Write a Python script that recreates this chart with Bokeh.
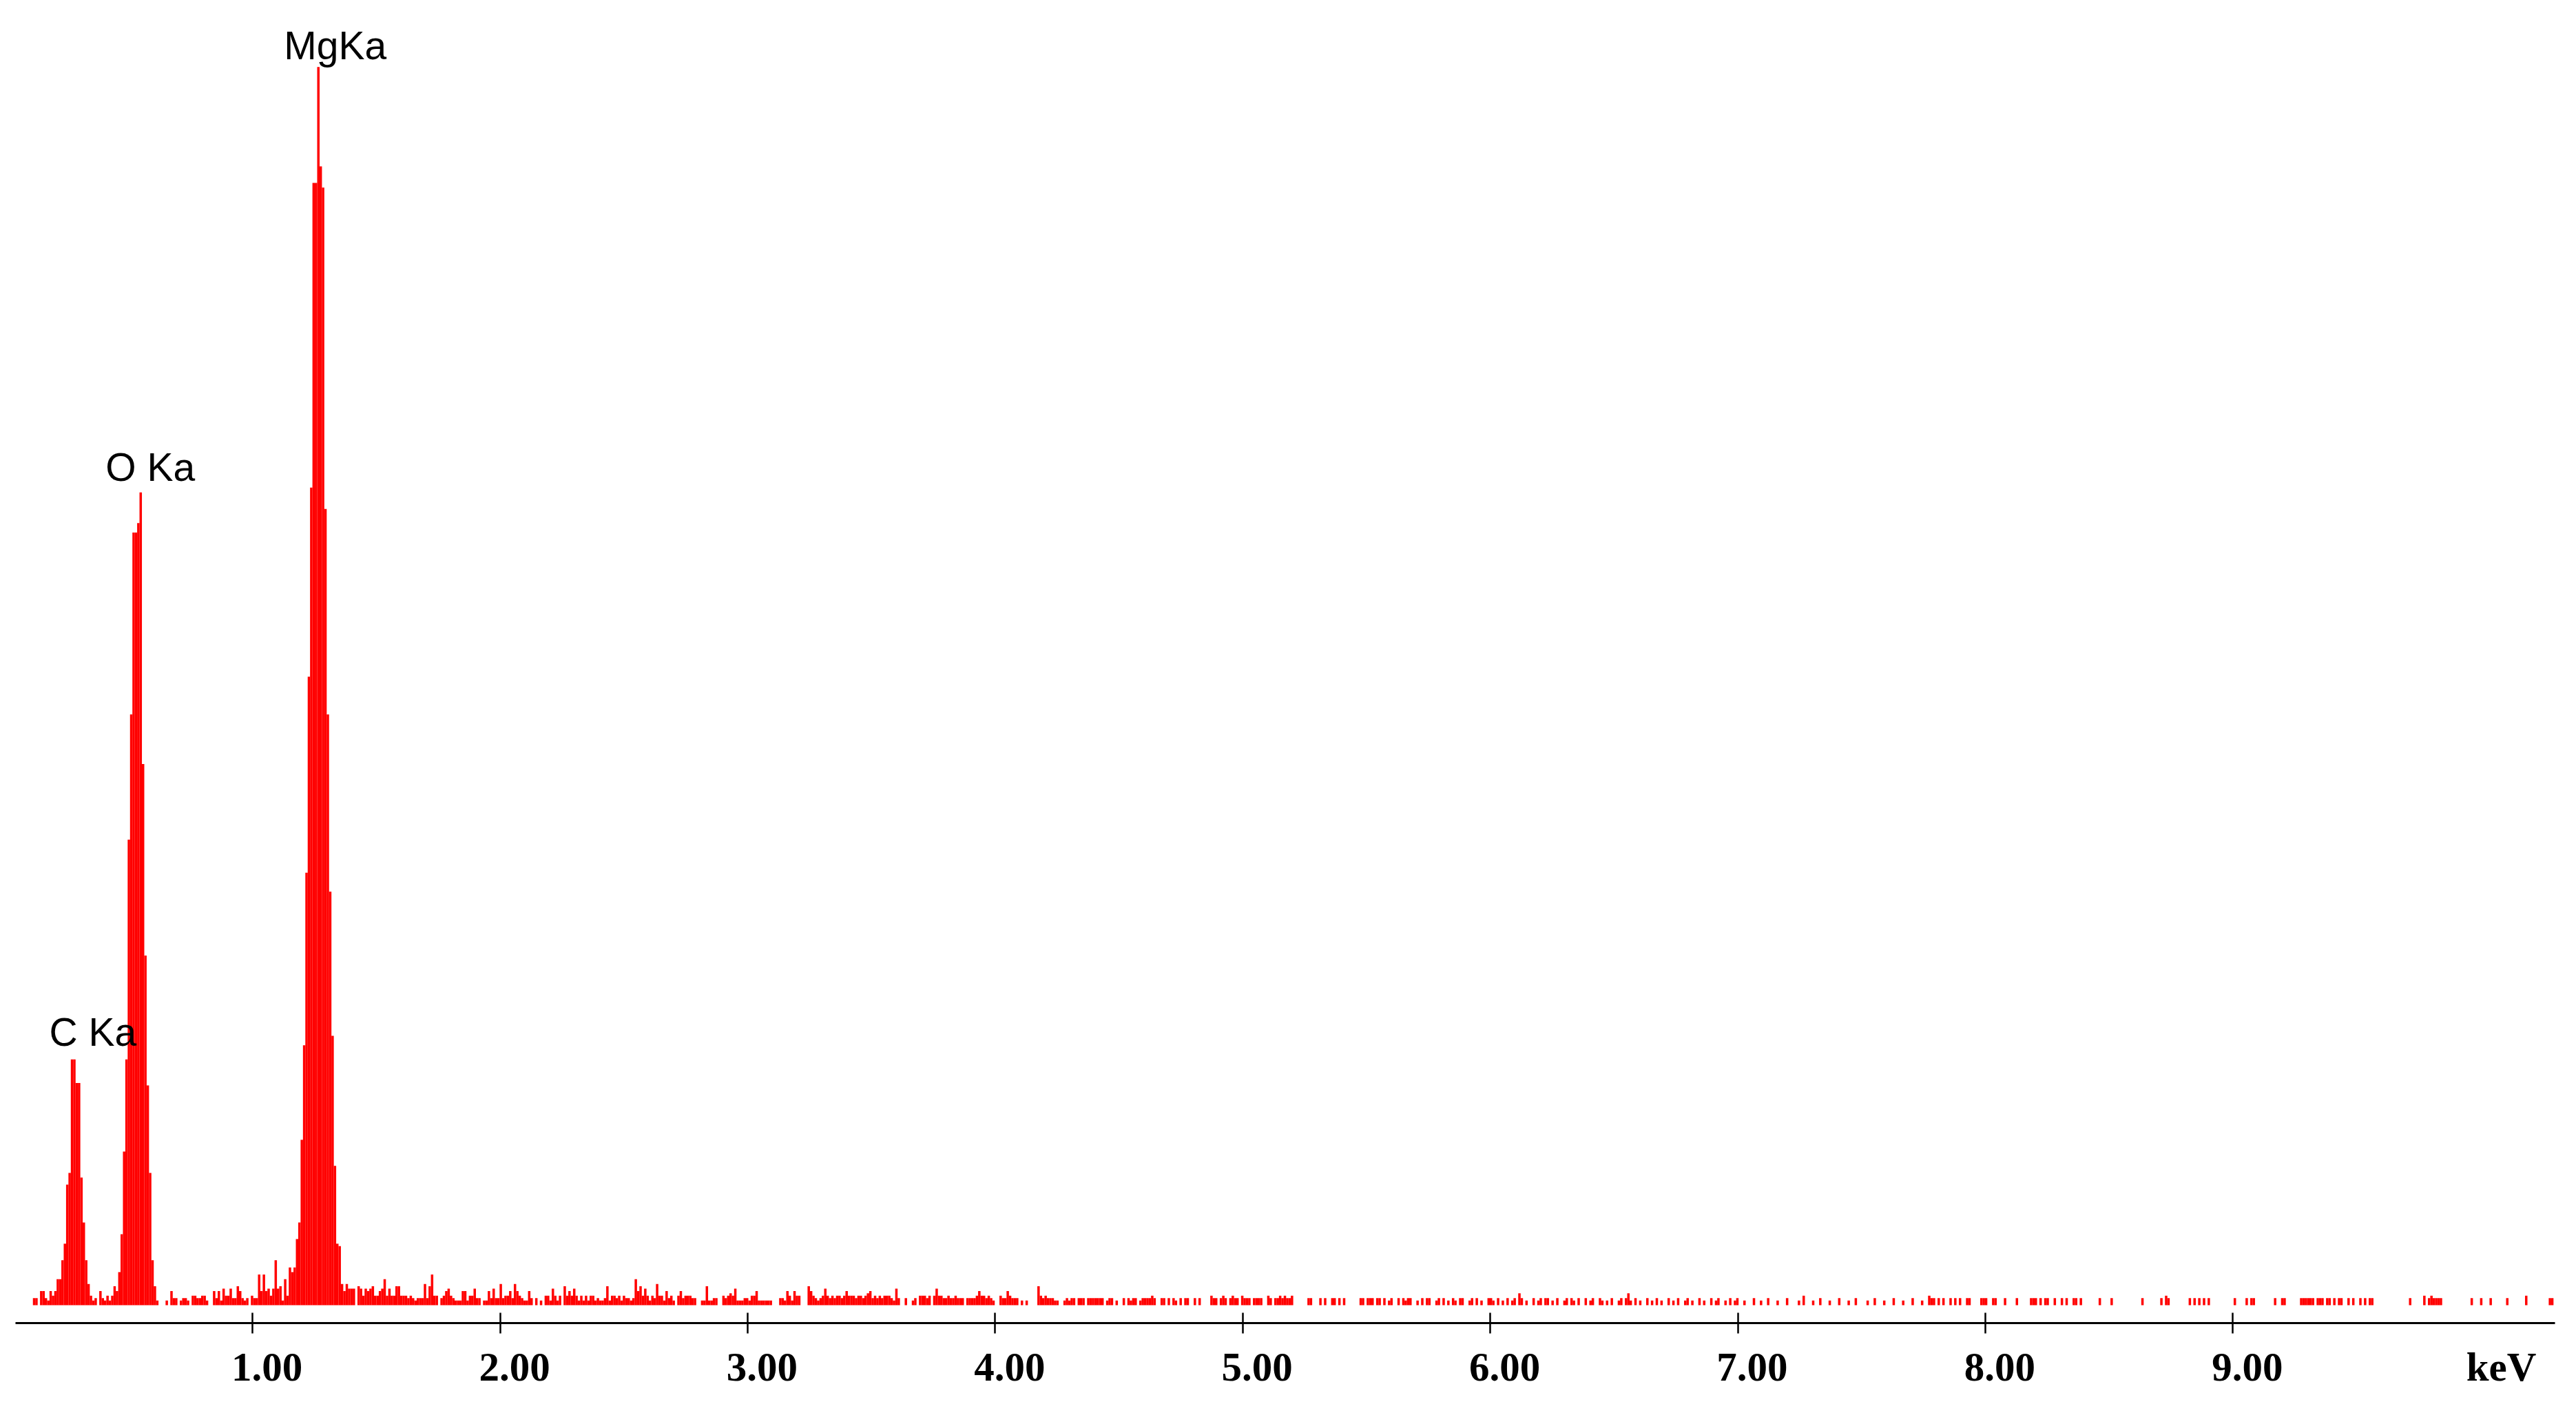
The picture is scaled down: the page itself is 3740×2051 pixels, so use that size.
from bokeh.plotting import figure
from bokeh.models import LinearAxis, FixedTicker, Range1d, ColumnDataSource
from bokeh.embed import file_html
from bokeh.resources import INLINE
from bokeh.core.properties import value

# ---------------- data ----------------
first_channel_kev = 0.1124      # lower edge of first plotted channel
channel_width_kev = 0.00957
n_channels = 1065

# counts per channel (channel 0 .. 212)
counts_c_o = [3, 3, 0, 6, 6, 3, 2, 6, 4, 6, 11, 11, 19, 26, 51, 56, 104, 104, 94, 94,
              54, 35, 19, 9, 4, 2, 3, 0, 6, 3, 2, 4, 2, 4, 8, 6, 14, 30, 65, 104,
              197, 250, 327, 327, 331, 344, 229, 148, 93, 56, 19, 8, 2]
counts_o_mg = [0, 0, 0, 2, 0, 6, 3, 3, 0, 2, 3, 3, 2, 0, 4, 4, 3, 3, 4, 4, 2, 0, 0, 6,
               3, 6, 2, 7, 4, 4, 7, 3, 3, 8, 6, 3, 2, 3, 0, 4, 3, 3, 13, 6, 13, 6, 7, 4,
               7, 19, 7, 8, 2, 11, 4, 16, 14, 16, 28]
counts_mg = [35, 70, 110, 183, 266, 346, 475, 475, 524, 482, 473, 337, 250, 175, 114,
             59, 26, 25]
counts_after_mg = [9, 6, 9, 7, 7, 7, 0, 8, 7, 4, 7, 6, 7, 8, 4, 4, 6, 7, 11, 4, 7, 4, 4,
                   8, 8, 4, 4, 4, 3, 4, 3, 2, 3, 3, 3, 9, 3, 8, 13, 4, 4, 0, 3, 4, 6, 7,
                   4, 3, 2, 2, 2, 6, 6, 2, 4, 4, 7, 3, 3, 0, 2, 2, 6, 3, 7, 3, 3, 9, 3,
                   4, 4, 6, 3, 9, 6, 4, 3, 2, 2, 6, 3, 0, 3]
# channels 213 .. 276
counts_2p1_2p8 = [0, 2, 0, 4, 4, 2, 7, 4, 2, 4, 0, 8, 4, 6, 4, 7, 4, 2, 4, 2,
                  4, 2, 4, 4, 2, 3, 2, 2, 3, 8, 2, 4, 4, 3, 4, 2, 4, 3, 3, 2,
                  3, 11, 6, 8, 4, 7, 4, 2, 4, 3, 9, 4, 4, 2, 6, 3, 4, 2, 0, 4,
                  6, 3, 4, 4]
# channels 277 .. 567, one digit per channel
bg_2p8_5p5 = ("4330022822" "3300434547" "2223324462" "2222200033" "2642644000"
              "8643234743" "4344346444" "3443456343" "4344432730" "0300230444"
              "3404744334" "3343330333" "3464434320" "0433643330" "2020000843"
              "4333220023" "2330333033" "3333302330" "2003032330" "2333343003"
              "3030320303" "3003030000" "4330343034" "3304333033" "3300430334"
              "3433400000" "0330003030" "0330303000" "0003303330" "3")
# channels 568 .. 799
bg_5p5_7p8 = ("3030230030" "3233002030" "3300230302" "0320330023" "0302003320"
              "3020302305" "3020030230" "3302030023" "0320300302" "3003202030"
              "0230352030" "2003020302" "0030203002" "3020030200" "3023002030"
              "2300200030" "0200300020" "0030000204" "0002003000" "2000300020"
              "0300002003" "0002000300" "0200030002" "00")
# channels 800 .. 1064
bg_7p8_10p3 = ("4330303003" "0303003300" "0033300330" "0030000300" "0003330303"
               "3003003030" "0330300000" "0030000300" "0000000000" "3000000030"
               "4300000000" "3030303030" "0000000003" "0000303300" "0000003003"
               "3000000333" "3330333033" "0303300303" "0030303300" "0000000000"
               "0003000004" "0343333000" "0000000003" "0003000300" "0000300000"
               "0040000000" "00330")

peak_labels = ["C Ka", "O Ka", "MgKa"]
tick_values = [1, 2, 3, 4, 5, 6, 7, 8, 9]
tick_texts = ["1.00", "2.00", "3.00", "4.00", "5.00", "6.00", "7.00", "8.00", "9.00"]
unit_text = "keV"

# ---------------- build ----------------
counts = [0] * n_channels
segments = [(0, counts_c_o + counts_o_mg + counts_mg + counts_after_mg),
            (213, counts_2p1_2p8),
            (277, [int(c) for c in bg_2p8_5p5]),
            (568, [int(c) for c in bg_5p5_7p8]),
            (800, [int(c) for c in bg_7p8_10p3])]
for start, vals in segments:
    for j, v in enumerate(vals):
        if start + j < n_channels:
            counts[start + j] = v
energy = [first_channel_kev + (i + 0.5) * channel_width_kev for i in range(n_channels)]

src = ColumnDataSource(dict(x=energy, top=counts))

X0, X1 = 0.042, 10.301
Y0, Y1 = -7.58, 549.9
FW, FH = 3687, 1912
p = figure(frame_width=FW, frame_height=FH,
           x_range=Range1d(X0, X1), y_range=Range1d(Y0, Y1),
           output_backend="svg", toolbar_location=None,
           x_axis_location=None, y_axis_location=None,
           min_border_left=22, min_border_right=20, min_border_top=8, min_border_bottom=6)
p.outline_line_color = None
p.xgrid.visible = False
p.ygrid.visible = False
p.background_fill_color = "white"
p.border_fill_color = "white"

p.vbar(x="x", top="top", bottom=0, width=channel_width_kev * 1.02, source=src,
       fill_color="#ff0000", line_color=None)

# peak labels, placed a few pixels up-left of each peak maximum
kev_per_px = (X1 - X0) / FW
cnt_per_px = (Y1 - Y0) / FH
peak_ranges = [(0, 27), (27, 53), (112, 130)]
label_dx_px = [-33, -51, -50]
label_dy_px = [40, 37, 31]
for txt, (a, b), dx, dy in zip(peak_labels, peak_ranges, label_dx_px, label_dy_px):
    seg = counts[a:b]
    k = a + seg.index(max(seg))
    p.text(x=[energy[k] + dx * kev_per_px], y=[counts[k] + dy * cnt_per_px], text=[txt],
           text_font=value("Liberation Sans"), text_font_size="57px",
           text_color="black", text_align="left", text_baseline="alphabetic")

# axis with tick marks
ax = LinearAxis(ticker=FixedTicker(ticks=tick_values))
ax.axis_line_width = 3
ax.axis_line_color = "black"
ax.major_tick_in = 15
ax.major_tick_out = 15
ax.major_tick_line_width = 2.5
ax.major_tick_line_color = "black"
ax.minor_tick_line_color = None
ax.major_label_text_font_size = "1px"
ax.major_label_text_color = None
ax.major_label_standoff = 0
p.add_layout(ax, "below")

# tick labels (drawn slightly right of each tick as in the original)
label_shift = 0.058
label_pos = [t + label_shift for t in tick_values] + [10.084]
overrides = {pos: s for pos, s in zip(label_pos, tick_texts + [unit_text])}
lab = LinearAxis(ticker=FixedTicker(ticks=label_pos), major_label_overrides=overrides)
lab.axis_line_color = None
lab.major_tick_line_color = None
lab.minor_tick_line_color = None
lab.major_tick_in = 0
lab.major_tick_out = 0
lab.major_label_standoff = 15
lab.major_label_text_font = "Liberation Serif"
lab.major_label_text_font_style = "bold"
lab.major_label_text_font_size = "59px"
lab.major_label_text_color = "black"
p.add_layout(lab, "below")

open("out.html", "w").write(file_html(p, INLINE))
